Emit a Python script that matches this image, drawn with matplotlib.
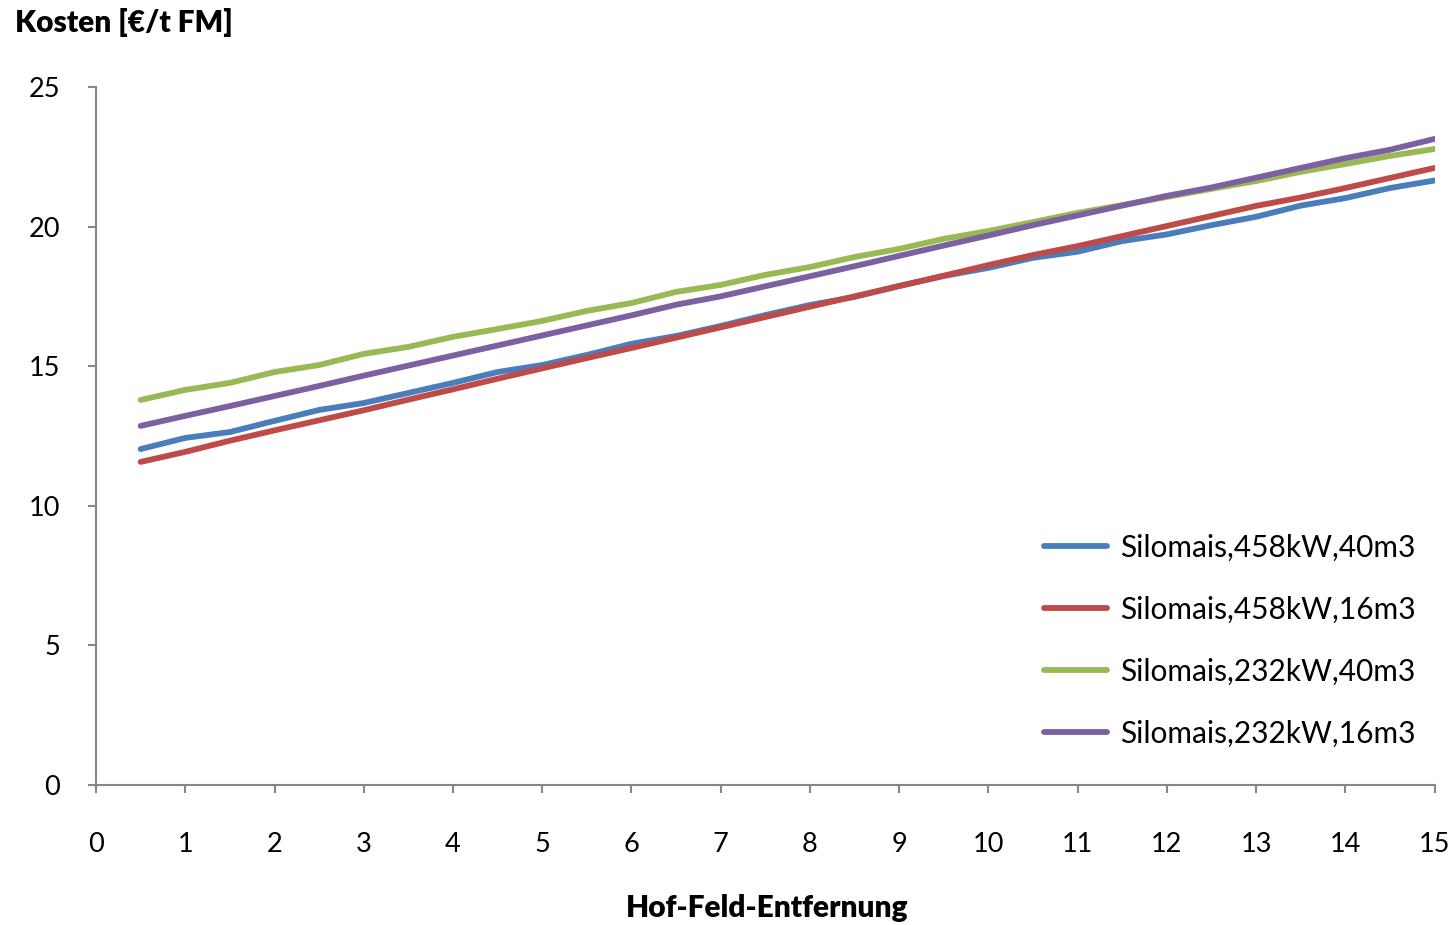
import numpy as np
import matplotlib.pyplot as plt

# Daten
entfernung = np.arange(0.5, 15.01, 0.5)
mais_458_40 = [12.03, 12.43, 12.64, 13.04, 13.43, 13.68, 14.04, 14.40, 14.79, 15.04,
               15.40, 15.80, 16.08, 16.44, 16.83, 17.19, 17.48, 17.87, 18.23, 18.52,
               18.88, 19.10, 19.48, 19.72, 20.05, 20.35, 20.75, 21.02, 21.38, 21.65]
mais_458_16 = [11.57, 11.93, 12.33, 12.70, 13.06, 13.42, 13.80, 14.17, 14.55, 14.92,
               15.29, 15.65, 16.02, 16.39, 16.76, 17.13, 17.50, 17.87, 18.24, 18.62,
               18.98, 19.30, 19.66, 20.02, 20.38, 20.74, 21.04, 21.38, 21.74, 22.10]
mais_232_40 = [13.79, 14.15, 14.40, 14.79, 15.04, 15.44, 15.69, 16.05, 16.33, 16.62,
               16.98, 17.26, 17.66, 17.91, 18.27, 18.55, 18.91, 19.20, 19.56, 19.84,
               20.16, 20.49, 20.77, 21.06, 21.35, 21.63, 21.96, 22.24, 22.53, 22.78]
mais_232_16 = [12.86, 13.22, 13.57, 13.93, 14.29, 14.66, 15.02, 15.38, 15.74, 16.10,
               16.46, 16.82, 17.20, 17.50, 17.86, 18.22, 18.58, 18.95, 19.32, 19.68,
               20.05, 20.40, 20.75, 21.10, 21.40, 21.75, 22.10, 22.45, 22.75, 23.14]
labels = ['Silomais,458kW,40m3', 'Silomais,458kW,16m3',
          'Silomais,232kW,40m3', 'Silomais,232kW,16m3']
farben = ['#4A7EBB', '#BE4B48', '#98B954', '#7D60A0']

plt.rcParams['font.family'] = ['Lato', 'DejaVu Sans']

fig = plt.figure(figsize=(14.55, 9.25), dpi=100)
ax = fig.add_axes([0.066, 0.1514, 0.920, 0.7546])

for serie, lab, col in zip([mais_458_40, mais_458_16, mais_232_40, mais_232_16], labels, farben):
    ax.plot(entfernung, serie, color=col, lw=4.2, label=lab, solid_capstyle='round')

ax.set_xlim(0, 15)
ax.set_ylim(0, 25)
ax.set_xticks(range(0, 16))
ax.set_yticks(range(0, 26, 5))
for s in ['top', 'right']:
    ax.spines[s].set_visible(False)
for s in ['left', 'bottom']:
    ax.spines[s].set_color('#868686')
    ax.spines[s].set_linewidth(1.5)
ax.tick_params(axis='both', colors='#868686', length=6, width=1.5, labelcolor='black', labelsize=19.5)
ax.tick_params(axis='y', pad=20)
ax.tick_params(axis='x', pad=28)

fig.text(0.01, 0.976, 'Kosten [€/t FM]', fontsize=21.5, fontweight='heavy', ha='left', va='center')
fig.text(0.527, 0.018, 'Hof-Feld-Entfernung', fontsize=21.5, fontweight='heavy', ha='center', va='center')

ax.legend(loc='center left', bbox_to_anchor=(0.7072, 0.3076), bbox_transform=fig.transFigure,
          frameon=False, fontsize=21.5, handlelength=2.1, handletextpad=0.45,
          labelspacing=1.14, borderpad=0)

plt.savefig('out.png')
